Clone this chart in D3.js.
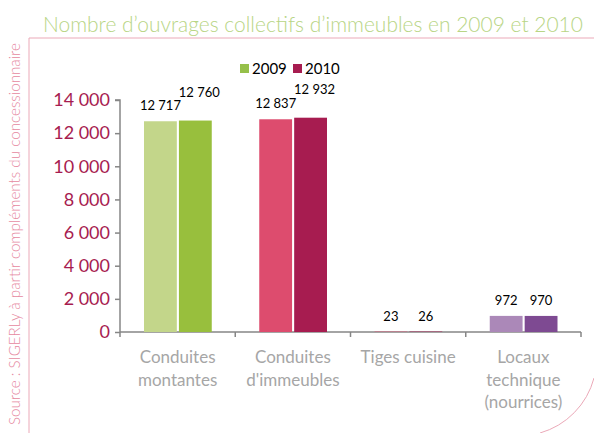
<!DOCTYPE html>
<html>
<head>
<meta charset="utf-8">
<script src="https://cdn.jsdelivr.net/npm/d3@7"></script>
<style>
  body { margin: 0; background: #fff; }
  svg { display: block; }
  text { font-family: Lato, "Open Sans", sans-serif; }
</style>
</head>
<body>
<div id="chart"></div>
<script>
// Data
var categories = ['Conduites\nmontantes', "Conduites\nd'immeubles", 'Tiges cuisine', 'Locaux\ntechnique\n(nourrices)']
var seriesNames = ['2009', '2010']
var values2009 = [12717, 12837, 23, 972]
var values2010 = [12760, 12932, 26, 970]
var yTicks = [0, 2000, 4000, 6000, 8000, 10000, 12000, 14000]

// Colours: one light / dark pair per category (the tiny bars share the red pair)
var colors2009 = ['#c3d68a', '#dd4c6e', '#dd4c6e', '#ab88b8']
var colors2010 = ['#98bf3d', '#a71c50', '#a71c50', '#7e4a92']
var legendColors = ['#96c04a', '#a71c50']

var width = 594
var height = 433
var plot = { left: 120, right: 581, top: 100, bottom: 332 }

var fr = d3.formatLocale({ decimal: ',', thousands: ' ', grouping: [3] })
var fmt = fr.format(',')

var svg = d3.select('#chart').append('svg')
  .attr('width', width)
  .attr('height', height)

// Fit a text to a target width by adjusting its font size
function fitWidth (sel, target) {
  var base = parseFloat(sel.style('font-size'))
  var len = sel.node().getComputedTextLength()
  sel.style('font-size', (base * target / len).toFixed(2) + 'px')
}

// Frame
svg.append('path')
  .attr('d', 'M29,433 V38 H594')
  .attr('fill', 'none')
  .attr('stroke', '#eba9b8')
  .attr('stroke-width', 1)
svg.append('path')
  .attr('d', 'M594,378 A78,78 0 0,1 540,433')
  .attr('fill', 'none')
  .attr('stroke', '#eba9b8')
  .attr('stroke-width', 1)

// Title
var title = svg.append('text')
  .attr('x', 43)
  .attr('y', 32)
  .style('font-family', '"Lato Light", Lato, sans-serif')
  .style('font-size', '22px')
  .style('font-weight', 300)
  .style('fill', '#b8d585')
  .text('Nombre d\u2019ouvrages collectifs d\u2019immeubles en 2009 et 2010')
fitWidth(title, 540)

// Source, rotated
var source = svg.append('text')
  .attr('transform', 'translate(20,425) rotate(-90)')
  .style('font-family', '"Lato Light", Lato, sans-serif')
  .style('font-size', '14px')
  .style('font-weight', 300)
  .style('fill', '#e6899f')
  .text('Source : SIGERLy \u00e0 partir compl\u00e9ments du concessionnaire')
fitWidth(source, 382)

// Scales
var x = d3.scaleBand()
  .domain(categories)
  .range([plot.left, plot.right])

var xInner = d3.scaleBand()
  .domain(seriesNames)
  .range([24, x.bandwidth() - 23.5])
  .paddingInner(0.06)

var y = d3.scaleLinear()
  .domain([0, 14000])
  .range([plot.bottom, plot.top])

// Y axis
var yAxis = svg.append('g')
  .attr('transform', 'translate(' + plot.left + ',0)')
  .call(d3.axisLeft(y).tickValues(yTicks).tickSize(5).tickPadding(5).tickFormat(fmt))
yAxis.select('.domain').attr('stroke', '#868686').attr('stroke-width', 1.5)
  .attr('d', 'M-5,' + y(14000) + 'H0V' + y(0))
yAxis.selectAll('.tick line').attr('stroke', '#868686').attr('stroke-width', 1.5)
yAxis.selectAll('.tick text')
  .style('font-size', '18px')
  .style('fill', '#a71c50')
  .style('font-family', 'Lato, sans-serif')

// X axis: line plus ticks on band boundaries
var xAxis = svg.append('g')
xAxis.append('line')
  .attr('x1', plot.left).attr('x2', plot.right)
  .attr('y1', y(0)).attr('y2', y(0))
  .attr('stroke', '#868686').attr('stroke-width', 1.5)
var bounds = categories.map(function (c) { return x(c) }).concat([plot.right])
xAxis.selectAll('.xtick')
  .data(bounds)
  .enter().append('line')
  .attr('x1', function (d) { return d }).attr('x2', function (d) { return d })
  .attr('y1', y(0)).attr('y2', y(0) + 5)
  .attr('stroke', '#868686').attr('stroke-width', 1.5)

// Category labels
var catLabels = xAxis.selectAll('.cat')
  .data(categories)
  .enter().append('text')
  .attr('text-anchor', 'middle')
  .attr('x', function (d) { return x(d) + x.bandwidth() / 2 })
  .style('font-size', '17px')
  .style('fill', '#a6a6a6')
catLabels.each(function (d) {
  var t = d3.select(this)
  d.split('\n').forEach(function (line, i) {
    t.append('tspan')
      .attr('x', x(d) + x.bandwidth() / 2)
      .attr('y', 363 + i * 22.5)
      .text(line)
  })
})

// Bars
var rows = categories.map(function (c, i) {
  return { cat: c, idx: i, vals: [values2009[i], values2010[i]] }
})

var groups = svg.selectAll('.cat-group')
  .data(rows)
  .enter().append('g')
  .attr('class', 'cat-group')
  .attr('transform', function (d) { return 'translate(' + x(d.cat) + ',0)' })

var bars = groups.selectAll('.bar')
  .data(function (d) {
    return d.vals.map(function (v, s) { return { v: v, s: s, idx: d.idx } })
  })
  .enter()

bars.append('rect')
  .attr('x', function (d) { return xInner(seriesNames[d.s]) })
  .attr('width', xInner.bandwidth())
  .attr('y', function (d) { return y(d.v) })
  .attr('height', function (d) { return y(0) - y(d.v) })
  .attr('fill', function (d) { return d.s === 0 ? colors2009[d.idx] : colors2010[d.idx] })

// Value labels; wide labels on the second bar are staggered upward to avoid overlap
bars.append('text')
  .attr('text-anchor', 'middle')
  .attr('x', function (d) {
    var cx = xInner(seriesNames[d.s]) + xInner.bandwidth() / 2
    return (d.s === 1 && d.v >= 10000) ? cx + 4 : cx
  })
  .attr('y', function (d) {
    var ly = y(d.v) - 11
    return (d.s === 1 && d.v >= 10000) ? ly - 13 : ly
  })
  .style('font-size', '13px')
  .style('fill', '#000')
  .text(function (d) { return fmt(d.v) })

// Legend
var legend = svg.append('g').attr('transform', 'translate(240,64)')
var li = legend.selectAll('.li')
  .data(seriesNames)
  .enter().append('g')
  .attr('transform', function (d, i) { return 'translate(' + (i * 53) + ',0)' })
li.append('rect')
  .attr('width', 9).attr('height', 9)
  .attr('fill', function (d, i) { return legendColors[i] })
li.append('text')
  .attr('x', 12).attr('y', 9.5)
  .style('font-size', '15px')
  .style('fill', '#000')
  .text(function (d) { return d })
</script>
</body>
</html>
